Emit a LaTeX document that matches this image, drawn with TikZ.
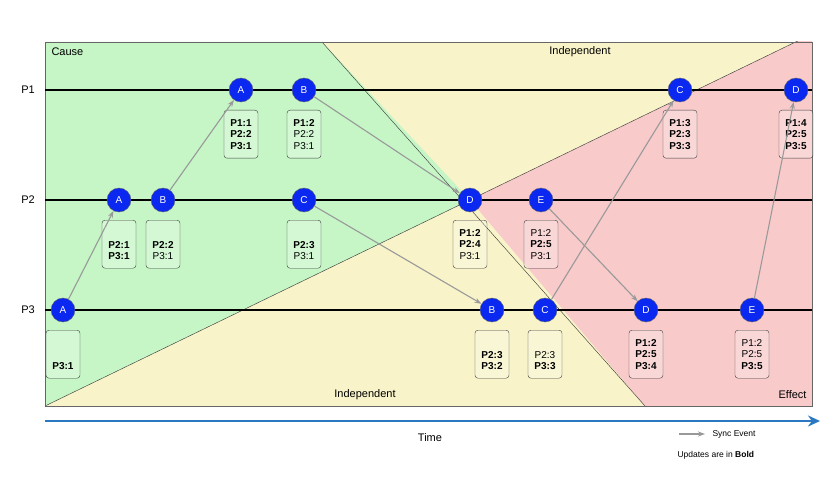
\documentclass[tikz,border=0pt]{standalone}
\usepackage{fontspec}
\setmainfont{Liberation Sans}
\usetikzlibrary{calc}
\usetikzlibrary{arrows.meta}
\definecolor{evblue}{HTML}{0A28F0}
\definecolor{causegreen}{HTML}{C6F5C6}
\definecolor{indyellow}{HTML}{F8F3C8}
\definecolor{effred}{HTML}{F8CACA}
\definecolor{timeblue}{HTML}{2A78C2}
\tikzset{
	EV/.style={circle,fill=evblue,draw=black!60,inner sep=0pt,minimum size=24pt,text=white,font=\fontsize{10}{12}\selectfont},
	VC/.style={draw=black!75,rounded corners=3pt,fill=white,fill opacity=.25,text opacity=1,minimum width=34pt,minimum height=48pt,inner sep=1pt,align=center,font=\fontsize{10}{11.5}\selectfont,anchor=north},
	SY/.style={-{Stealth[length=7pt,width=5pt]},draw=black!40,line width=1.1pt}
}
\begin{document}
\begin{tikzpicture}[x=1pt,y=-1pt]
	\useasboundingbox (0,0) rectangle (840,481);
	\fill[white] (0,0) rectangle (840,481);
	% regions
	\coordinate (F1) at (45,42);
	\coordinate (F2) at (812,406);
	\begin{scope}
		\clip (F1) rectangle (F2);
		\fill[indyellow] (F1) rectangle (F2);
		\fill[causegreen] (45,42) -- (322,42) -- (470,200) -- (45,406) -- cycle;
		\fill[effred] (470,200) -- (812,34) -- (812,406) -- (645,406) -- cycle;
		\draw[black!80] (322,42) -- (645,406);
		\draw[black!80] (45,406) -- (812,34);
	\end{scope}
	\draw[black!60] (F1) rectangle (F2);
	\node[anchor=west,font=\fontsize{11}{13}\selectfont] (cause) at (48,52) {Cause};
	\node[font=\fontsize{11}{13}\selectfont] (indtop) at (580,52) {Independent};
	\node[font=\fontsize{11}{13}\selectfont] (indbot) at (365,395) {Independent};
	\node[anchor=east,font=\fontsize{11}{13}\selectfont] (effect) at (810,395) {Effect};
	% process lines
	\foreach \p/\y in {1/90,2/200,3/310}{
		\node[font=\fontsize{11}{13}\selectfont] (P\p) at (28,\y) {P\p};
		\draw[line width=1.2pt] (45,\y) -- (812,\y);
	}
	% P1
	\node[EV] (a1) at (241,90) {A};
	\node[EV] (b1) at (304,90) {B};
	\node[EV] (c1) at (680,90) {C};
	\node[EV] (d1) at (796,90) {D};
	\node[VC] at (241,110) {\textbf{P1:1}\\\textbf{P2:2}\\\textbf{P3:1}};
	\node[VC] at (304,110) {\textbf{P1:2}\\P2:2\\P3:1};
	\node[VC] at (680,110) {\textbf{P1:3}\\\textbf{P2:3}\\\textbf{P3:3}};
	\node[VC] at (796,110) {\textbf{P1:4}\\\textbf{P2:5}\\\textbf{P3:5}};
	% P2
	\node[EV] (a2) at (119,200) {A};
	\node[EV] (b2) at (163,200) {B};
	\node[EV] (c2) at (304,200) {C};
	\node[EV] (d2) at (470,200) {D};
	\node[EV] (e2) at (541,200) {E};
	\node[VC] at (119,220) {\strut\\\textbf{P2:1}\\\textbf{P3:1}};
	\node[VC] at (163,220) {\strut\\\textbf{P2:2}\\P3:1};
	\node[VC] at (304,220) {\strut\\\textbf{P2:3}\\P3:1};
	\node[VC] at (470,220) {\textbf{P1:2}\\\textbf{P2:4}\\P3:1};
	\node[VC] at (541,220) {P1:2\\\textbf{P2:5}\\P3:1};
	% P3
	\node[EV] (a3) at (63,310) {A};
	\node[EV] (b3) at (492,310) {B};
	\node[EV] (c3) at (545,310) {C};
	\node[EV] (d3) at (646,310) {D};
	\node[EV] (e3) at (752,310) {E};
	\node[VC] at (63,330) {\strut\\\strut\\\textbf{P3:1}};
	\node[VC] at (492,330) {\strut\\\textbf{P2:3}\\\textbf{P3:2}};
	\node[VC] at (545,330) {\strut\\P2:3\\\textbf{P3:3}};
	\node[VC] at (646,330) {\textbf{P1:2}\\\textbf{P2:5}\\\textbf{P3:4}};
	\node[VC] at (752,330) {P1:2\\P2:5\\\textbf{P3:5}};
	% sync events
	\draw[SY] (a3) -- (a2);
	\draw[SY] (b2) -- (a1);
	\draw[SY] (b1) -- (d2);
	\draw[SY] (c2) -- (b3);
	\draw[SY] (c3) -- (c1);
	\draw[SY] (e2) -- (d3);
	\draw[SY] (e3) -- (d1);
	% time axis
	\coordinate (t0) at (45,421);
	\coordinate (t1) at (820,421);
	\draw[timeblue,line width=2.5pt,-{Stealth[length=12pt,width=11pt]}] (t0) -- (t1);
	\node[font=\fontsize{11}{13}\selectfont] (time) at (430,438) {Time};
	% legend
	\coordinate (l0) at (679,434);
	\coordinate (l1) at (705,434);
	\draw[SY] (l0) -- (l1);
	\node[anchor=west,font=\fontsize{8.5}{10}\selectfont] (sync) at (709,434) {Sync Event};
	\node[anchor=west,font=\fontsize{8.5}{10}\selectfont] (bold) at (674,455) {Updates are in \textbf{Bold}};
\end{tikzpicture}
\end{document}
